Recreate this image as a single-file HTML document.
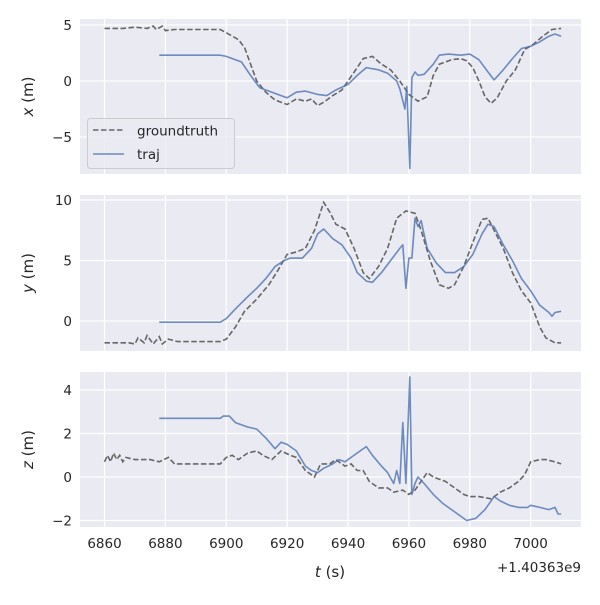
<!DOCTYPE html>
<html><head><meta charset="utf-8"><style>
body{margin:0;background:#fff}
svg text{font-family:"DejaVu Sans","Liberation Sans",sans-serif;fill:#262626}
</style></head><body>
<svg id="s" width="600" height="600" xmlns="http://www.w3.org/2000/svg"></svg>
<script>
const S=document.getElementById('s');
const X0=80,X1=581;
const tx=t=>104.5+(t-6860)*3.044;
const P=[
 {top:19,bot:174,y0:81,sc:11.2,ticks:[[5,'5'],[0,'0'],[-5,'−5']],lab:'x',
  gt:[6860,4.7,6866,4.7,6870,4.8,6874,4.7,6876,4.9,6877,4.6,6879,4.9,6880,4.5,6883,4.6,6898,4.6,6900,4.3,6904,3.7,6906,3.0,6908,1.5,6910,0.0,6913,-1.0,6916,-1.7,6920,-2.1,6923,-1.6,6926,-1.8,6928,-1.6,6930,-2.2,6932,-1.9,6935,-1.3,6938,-0.8,6940,0.0,6943,1.2,6945,2.0,6948,2.2,6951,1.5,6954,1.0,6957,0.0,6960,-1.2,6963,-1.8,6966,-1.4,6968,0.5,6970,1.5,6974,1.9,6977,2.0,6979,1.8,6981,1.2,6983,0.0,6985,-1.4,6987,-2.0,6989,-1.5,6992,0.0,6995,1.0,6998,2.8,7001,3.3,7004,4.0,7007,4.6,7010,4.7],
  tr:[6878,2.3,6898,2.3,6900,2.2,6905,1.7,6908,0.5,6911,-0.6,6915,-1.0,6918,-1.3,6920,-1.5,6923,-1.0,6926,-0.9,6930,-1.2,6933,-1.3,6936,-0.8,6940,-0.3,6943,0.5,6946,1.2,6950,1.0,6953,0.7,6956,0.0,6957,-0.7,6958.7,-2.5,6959.3,-0.5,6960.3,-7.8,6961,0.3,6962,0.8,6963,0.5,6965,0.6,6968,1.5,6970,2.3,6973,2.4,6977,2.3,6980,2.4,6983,1.9,6986,0.8,6988,0.1,6991,1.0,6994,2.0,6997,2.9,7000,3.1,7003,3.5,7006,4.0,7008,4.2,7010,4.0]},
 {top:195,bot:351,y0:321,sc:12.1,ticks:[[10,'10'],[5,'5'],[0,'0']],lab:'y',
  gt:[6860,-1.8,6868,-1.8,6870,-1.9,6871,-1.4,6873,-1.8,6874,-1.2,6876,-1.9,6878,-1.3,6879,-1.9,6881,-1.5,6884,-1.7,6898,-1.7,6900,-1.5,6903,-0.5,6906,0.8,6910,1.8,6914,3.0,6917,4.2,6920,5.5,6923,5.7,6926,6.0,6929,7.5,6932,9.8,6934,9.0,6936,8.0,6939,7.6,6942,6.0,6945,4.0,6947,3.5,6950,4.5,6953,6.0,6956,8.5,6959,9.1,6962,8.9,6964,7.5,6967,5.0,6970,3.0,6973,2.7,6975,3.0,6978,4.5,6981,6.5,6984,8.4,6986,8.5,6988,7.5,6991,6.0,6994,4.0,6997,2.5,7000,1.5,7003,-0.5,7005,-1.4,7008,-1.8,7010,-1.8],
  tr:[6878,-0.1,6898,-0.1,6900,0.2,6903,1.0,6907,2.0,6910,2.7,6913,3.5,6916,4.5,6919,5.0,6921,5.2,6925,5.2,6928,6.0,6930,7.2,6932,7.6,6935,6.8,6938,6.3,6941,5.2,6943,4.0,6946,3.3,6948,3.2,6951,4.0,6954,5.0,6957,6.0,6958,6.3,6959,2.7,6960,5.2,6961,5.2,6962,8.5,6963,7.8,6964,8.3,6966,6.0,6969,4.8,6972,4.0,6975,4.0,6978,4.5,6981,5.5,6984,7.2,6986,8.0,6988,7.8,6991,6.3,6994,5.0,6997,3.5,7000,2.5,7003,1.3,7006,0.7,7007,0.4,7008,0.7,7010,0.8]},
 {top:372,bot:527,y0:477,sc:21.75,ticks:[[4,'4'],[2,'2'],[0,'0'],[-2,'−2']],lab:'z',
  gt:[6860,0.7,6861,1.0,6862,0.7,6863,1.1,6864,0.8,6865,1.0,6866,0.7,6867,0.9,6870,0.8,6875,0.8,6878,0.7,6881,0.9,6883,0.6,6898,0.6,6900,0.9,6902,1.0,6904,0.8,6907,1.1,6910,1.2,6912,1.0,6915,0.8,6918,1.2,6921,1.0,6923,0.9,6926,0.3,6929,0.0,6931,0.6,6934,0.6,6936,0.8,6939,0.5,6941,0.6,6943,0.3,6945,0.3,6947,-0.2,6950,-0.5,6953,-0.5,6955,-0.7,6958,-0.6,6960,-0.8,6962,-0.6,6964,-0.2,6966,0.2,6968,0.0,6970,-0.1,6972,-0.2,6975,-0.5,6978,-0.8,6980,-0.9,6983,-0.9,6987,-1.0,6990,-0.7,6993,-0.5,6996,-0.2,6998,0.1,7000,0.7,7003,0.8,7005,0.8,7008,0.7,7010,0.6],
  tr:[6878,2.7,6898,2.7,6899,2.8,6901,2.8,6903,2.5,6907,2.3,6910,2.2,6913,1.8,6916,1.3,6918,1.6,6920,1.5,6923,1.2,6926,0.5,6928,0.3,6930,0.2,6932,0.4,6935,0.6,6937,0.8,6939,0.7,6941,0.9,6944,1.2,6946,1.4,6948,1.0,6951,0.5,6953,0.2,6955,-0.3,6956,0.3,6957,-0.3,6958,2.5,6959,-0.3,6960.3,4.6,6961,-0.8,6962,-0.3,6963,0.0,6965,-0.3,6968,-0.8,6971,-1.2,6974,-1.5,6977,-1.8,6979,-2.0,6982,-1.9,6985,-1.5,6988,-0.9,6990,-1.1,6993,-1.3,6996,-1.4,6999,-1.4,7000,-1.3,7003,-1.4,7006,-1.5,7008,-1.4,7009,-1.7,7010,-1.7]}
];
let h='';
const xt=[6860,6880,6900,6920,6940,6960,6980,7000];
P.forEach((p,i)=>{
 h+=`<rect x="${X0}" y="${p.top}" width="${X1-X0}" height="${p.bot-p.top}" fill="#eaeaf2"/>`;
 xt.forEach(t=>h+=`<line x1="${tx(t)}" x2="${tx(t)}" y1="${p.top}" y2="${p.bot}" stroke="#fff" stroke-width="1.2"/>`);
 p.ticks.forEach(([v,l])=>{const y=p.y0-v*p.sc;
  h+=`<line x1="${X0}" x2="${X1}" y1="${y}" y2="${y}" stroke="#fff" stroke-width="1.2"/>`;
  h+=`<text x="${X0-8}" y="${y+5}" font-size="13.5" text-anchor="end">${l}</text>`;});
 const pts=a=>{let s='';for(let k=0;k<a.length;k+=2)s+=(k?'L':'M')+tx(a[k]).toFixed(1)+','+(p.y0-a[k+1]*p.sc).toFixed(1);return s;};
 h+=`<path d="${pts(p.gt)}" fill="none" stroke="#666" stroke-width="1.6" stroke-dasharray="5.5,2.5"/>`;
 h+=`<path d="${pts(p.tr)}" fill="none" stroke="#4c72b0" stroke-opacity="0.8" stroke-width="1.6" stroke-linejoin="round"/>`;
 const cy=(p.top+p.bot)/2;
 h+=`<text transform="translate(33,${cy}) rotate(-90)" font-size="15" text-anchor="middle"><tspan font-style="italic">${p.lab}</tspan> (m)</text>`;
});
xt.forEach(t=>h+=`<text x="${tx(t)}" y="548" font-size="13.5" text-anchor="middle">${t}</text>`);
h+=`<text x="330" y="577" font-size="15" text-anchor="middle"><tspan font-style="italic">t</tspan> (s)</text>`;
h+=`<text x="581" y="572" font-size="13.5" text-anchor="end">+1.40363e9</text>`;
h+=`<rect x="87.5" y="118.5" width="147" height="50" rx="3" fill="#eaeaf2" fill-opacity="0.8" stroke="#ccc"/>`;
h+=`<line x1="93" x2="124" y1="130" y2="130" stroke="#666" stroke-width="1.6" stroke-dasharray="5.5,2.5"/>`;
h+=`<text x="137" y="135.5" font-size="13.5">groundtruth</text>`;
h+=`<line x1="93" x2="124" y1="154" y2="154" stroke="#4c72b0" stroke-opacity="0.8" stroke-width="1.6"/>`;
h+=`<text x="137" y="159" font-size="13.5">traj</text>`;
S.innerHTML=h;
</script>
</body></html>
